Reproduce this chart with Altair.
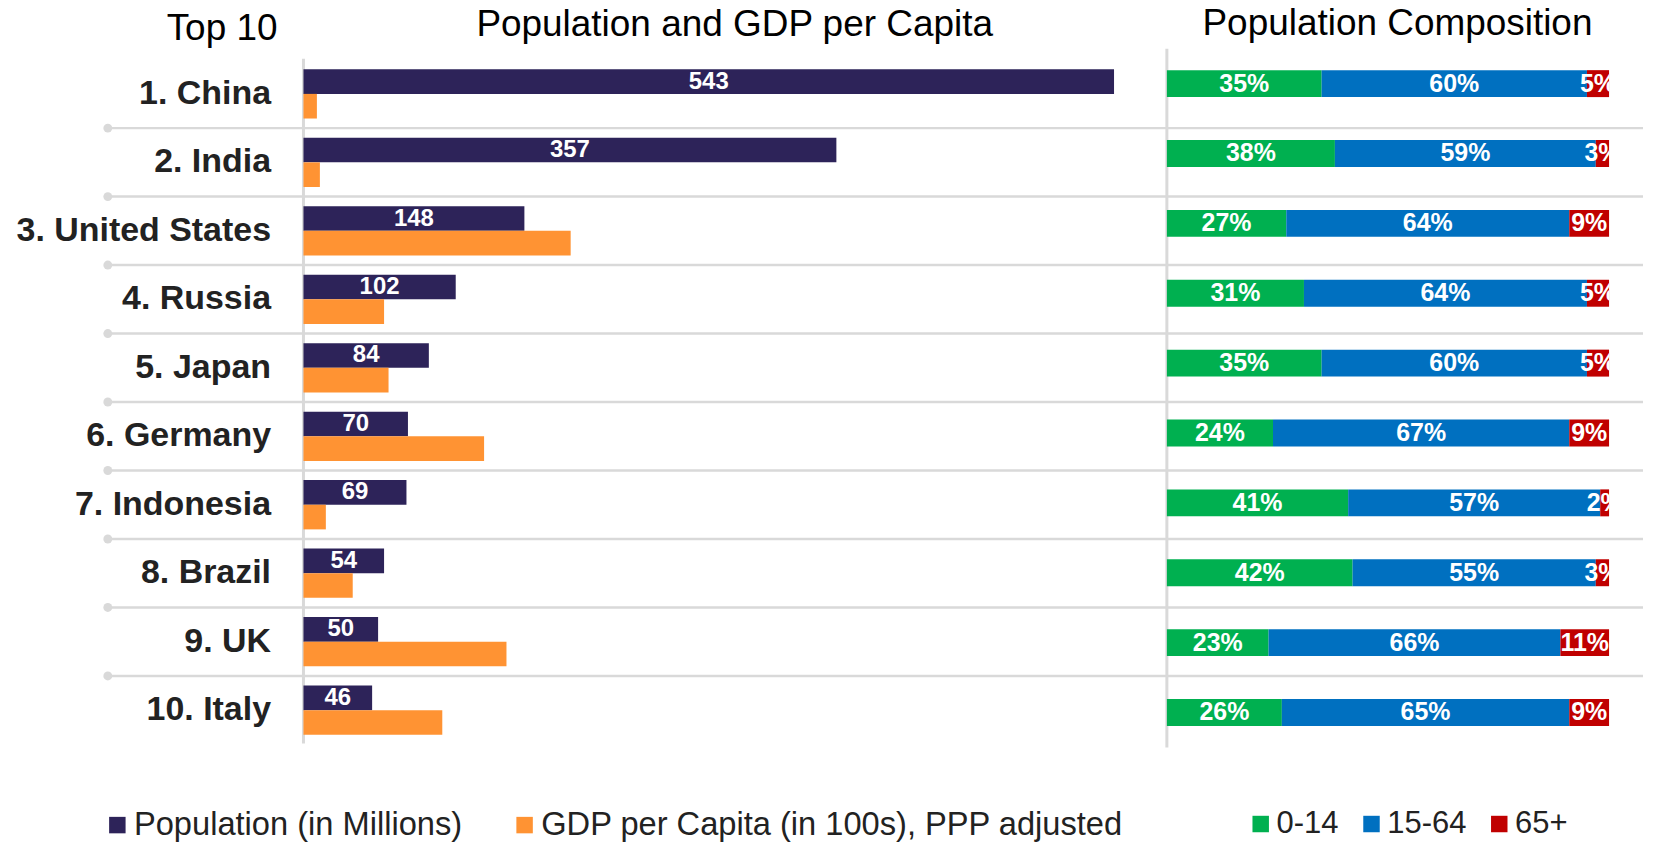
import altair as alt
import pandas as pd

countries = ["1. China", "2. India", "3. United States", "4. Russia", "5. Japan",
             "6. Germany", "7. Indonesia", "8. Brazil", "9. UK", "10. Italy"]
population = [543, 357, 148, 102, 84, 70, 69, 54, 50, 46]
gdp_per_capita = [9, 11, 179, 54, 57, 121, 15, 33, 136, 93]
age_0_14 = [35, 38, 27, 31, 35, 24, 41, 42, 23, 26]
age_15_64 = [60, 59, 64, 64, 60, 67, 57, 55, 66, 65]
age_65_plus = [5, 3, 9, 5, 5, 9, 2, 3, 11, 9]

series_names = ["Population (in Millions)", "GDP per Capita (in 100s), PPP adjusted"]
age_groups = ["0-14", "15-64", "65+"]
titles = ["Top 10", "Population and GDP per Capita", "Population Composition"]

FONT = "Liberation Sans"
GRID = "#d9d9d9"

# ---- data tables built from the arrays ----
left_rows = []
for i, c in enumerate(countries):
    left_rows.append({"country": c, "rank": i + 1, "series": series_names[0], "value": population[i]})
    left_rows.append({"country": c, "rank": i + 1, "series": series_names[1], "value": gdp_per_capita[i]})
df_left = pd.DataFrame(left_rows)

right_rows = []
for i, c in enumerate(countries):
    for k, (g, arr) in enumerate(zip(age_groups, [age_0_14, age_15_64, age_65_plus])):
        right_rows.append({"country": c, "rank": i + 1, "group": g, "order": k, "pct": arr[i]})
df_right = pd.DataFrame(right_rows)

df_rows = pd.DataFrame({"country": countries, "rank": list(range(1, len(countries) + 1))})

LEFT_W, LEFT_H = 865, 697
RIGHT_W, RIGHT_H = 443, 700
POP_MAX = 578.4

left_band = alt.Scale(domain=countries, paddingInner=0, paddingOuter=0.08, align=1)
right_band = alt.Scale(domain=countries, paddingInner=0, paddingOuter=0)


def yband(scale, axis=None, band_pos=None):
    kw = dict(sort=countries, scale=scale, axis=axis)
    if band_pos is not None:
        kw["bandPosition"] = band_pos
    return alt.Y("country:N", **kw)


left_axis = alt.Axis(
    title=None,
    labelFont=FONT, labelFontSize=34, labelFontWeight="bold", labelColor="#222222",
    labelPadding=33, labelLimit=0, ticks=False, tickSize=0,
    domain=False, grid=False,
)


def title_text(txt, x, y, align="center"):
    return alt.Chart(pd.DataFrame({"t": [txt]})).mark_text(
        font=FONT, fontSize=37, color="#000000", align=align, baseline="middle"
    ).encode(text="t:N", x=alt.value(x), y=alt.value(y))


def vline(y1, y2):
    return alt.Chart(pd.DataFrame({"k": [0]})).mark_rule(
        color=GRID, strokeWidth=3
    ).encode(x=alt.value(0), y=alt.value(y1), y2=alt.value(y2))


x_left_scale = alt.Scale(domain=[0, POP_MAX], nice=False, zero=True)
yoff = alt.YOffset("series:N", sort=series_names,
                   scale=alt.Scale(domain=series_names, paddingInner=0, paddingOuter=0.39))

left_grid = alt.Chart(df_rows).transform_filter("datum.rank > 1").mark_rule(
    color=GRID, strokeWidth=2.5
).encode(y=yband(left_band, left_axis, band_pos=0), x=alt.value(-196), x2=alt.value(1342))

left_dots = alt.Chart(df_rows).transform_filter("datum.rank > 1").mark_circle(
    color=GRID, opacity=1, size=80
).encode(y=yband(left_band, left_axis, band_pos=0), x=alt.value(-196))

left_bars = alt.Chart(df_left).mark_bar().encode(
    y=yband(left_band, left_axis),
    x=alt.X("value:Q", scale=x_left_scale, axis=None),
    yOffset=yoff,
    color=alt.Color(
        "series:N",
        scale=alt.Scale(domain=series_names, range=["#2d2359", "#ff9333"]),
        legend=alt.Legend(
            orient="none", legendX=-202.8, legendY=761, direction="horizontal", columns=2,
            title=None, symbolType="square", symbolSize=272, symbolStrokeWidth=0,
            labelFont=FONT, labelFontSize=32.7, labelColor="#222222", labelOffset=0.3,
            columnPadding=46, padding=0, labelLimit=0,
        ),
    ),
)

left_labels = alt.Chart(df_left).transform_filter(
    alt.datum.series == series_names[0]
).transform_calculate(mid="datum.value / 2").mark_text(
    color="white", font=FONT, fontSize=24, fontWeight="bold", baseline="middle", align="center"
).encode(
    y=yband(left_band, left_axis),
    x=alt.X("mid:Q", scale=x_left_scale, axis=None),
    yOffset=yoff,
    text=alt.Text("value:Q"),
)

left = alt.layer(
    left_grid, left_dots, vline(10, 696), left_bars, left_labels,
    title_text(titles[0], -26, -20, align="right"),
    title_text(titles[1], 432, -24),
).properties(width=LEFT_W, height=LEFT_H)

# ---- right panel ----
stacked = alt.Chart(df_right).transform_stack(
    stack="pct", groupby=["country"], as_=["x0", "x1"],
    sort=[alt.SortField("order", order="ascending")],
).transform_calculate(mid="(datum.x0 + datum.x1) / 2", label="datum.pct + '%'")

x_right = alt.Scale(domain=[0, 100], nice=False, zero=True)

right_bars = stacked.mark_bar(size=27).encode(
    y=yband(right_band),
    x=alt.X("x0:Q", scale=x_right, axis=None),
    x2="x1:Q",
    color=alt.Color(
        "group:N",
        scale=alt.Scale(domain=age_groups, range=["#00b050", "#0070c0", "#c00000"]),
        legend=alt.Legend(
            orient="none", legendX=78.5, legendY=761, direction="horizontal", columns=3,
            title=None, symbolType="square", symbolSize=272, symbolStrokeWidth=0,
            labelFont=FONT, labelFontSize=31, labelColor="#222222", labelOffset=0.3,
            columnPadding=17, padding=0, labelLimit=0,
        ),
    ),
)

right_labels = stacked.mark_text(
    clip=True, color="white", font=FONT, fontSize=25, fontWeight="bold",
    baseline="middle", align="center"
).encode(
    y=yband(right_band),
    x=alt.X("mid:Q", scale=x_right, axis=None),
    text="label:N",
)

right = alt.layer(
    vline(0, RIGHT_H), right_bars, right_labels,
    title_text(titles[2], 231, -25),
).properties(width=RIGHT_W, height=RIGHT_H)

chart = alt.hconcat(left, right, spacing=0, bounds="flush").resolve_scale(
    color="independent", y="independent", x="independent", yOffset="independent"
).properties(
    padding={"left": 7, "top": -4, "right": 0, "bottom": 0},
    background="white",
).configure(font=FONT).configure_view(stroke="transparent", strokeWidth=0)

chart.save("out.html", embed_options={"renderer": "svg", "actions": False})
